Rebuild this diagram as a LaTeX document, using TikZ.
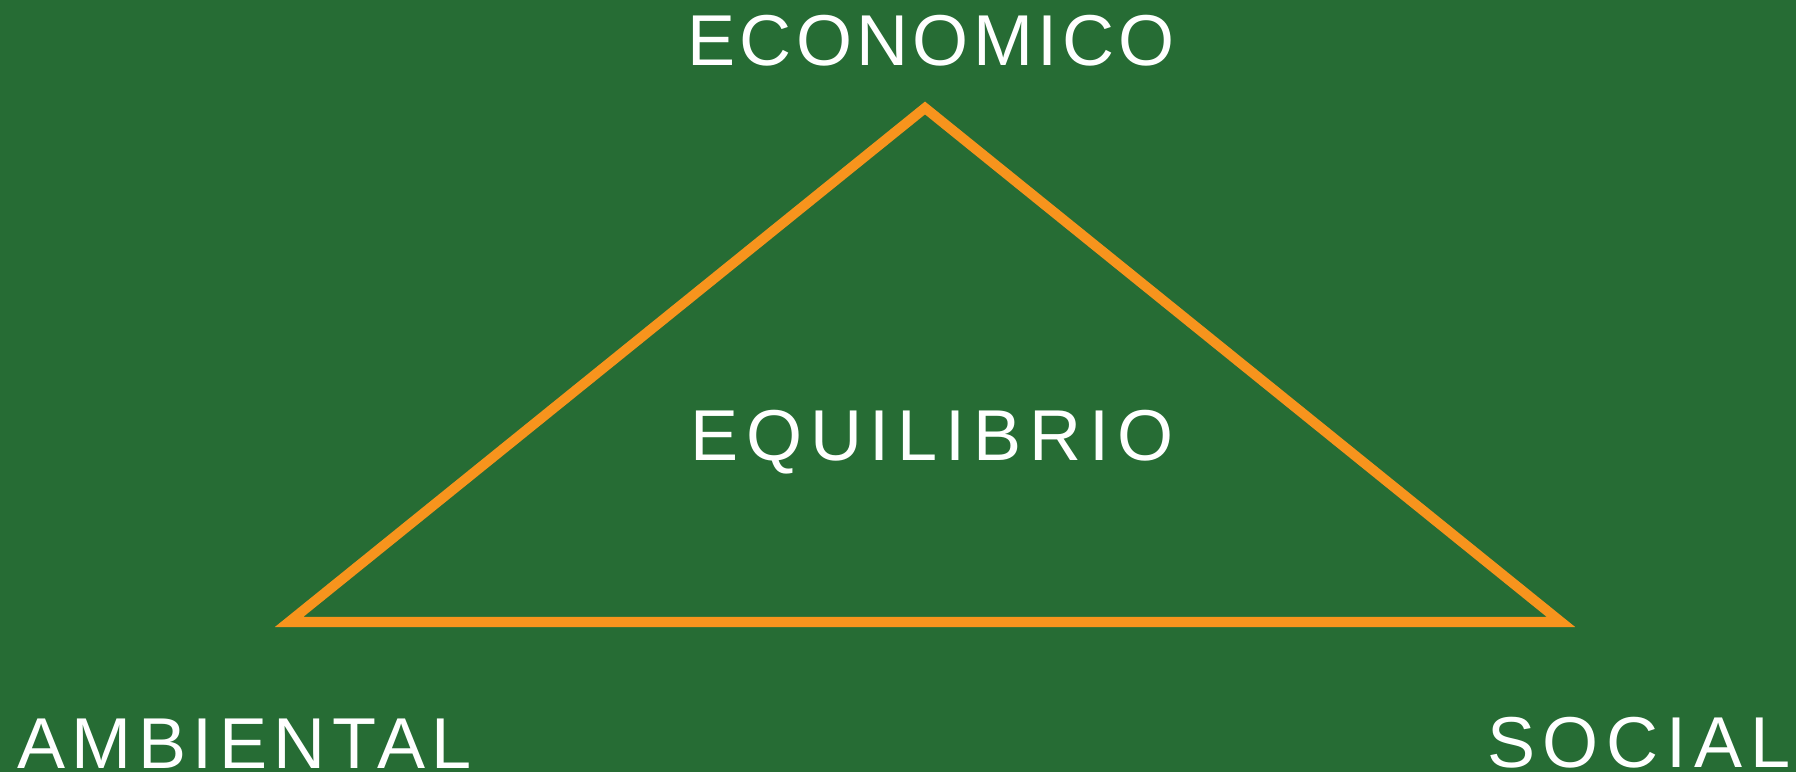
\documentclass[tikz,border=0pt]{standalone}
\usepackage{fontspec}
\setmainfont{Liberation Sans}
\usetikzlibrary{positioning}
\definecolor{sostgreen}{RGB}{38,108,52}
\definecolor{sostorange}{RGB}{247,148,29}

\begin{document}
\begin{tikzpicture}[
    line join=miter,
    edge/.style={sostorange, line width=5.7pt},
    pillar/.style={white, anchor=base, inner sep=0pt,
                   font=\fontsize{41}{49}\selectfont},
    spread/.style={font=\fontsize{41}{49}\selectfont\addfontfeature{LetterSpace=#1}},
  ]

  % ---- background -------------------------------------------
  \fill[sostgreen] (0,0) rectangle (35.92,15.44);
  \useasboundingbox (0,0) rectangle (35.92,15.44);

  % ---- triangle corners -------------------------------------
  \coordinate (top)   at (18.50,13.28);   % economico
  \coordinate (left)  at ( 5.78, 3.00);   % ambiental
  \coordinate (right) at (31.22, 3.00);   % social

  \draw[edge] (top) -- (right) -- (left) -- cycle;

  % ---- labels -----------------------------------------------
  \node[pillar, spread=6]  (eco)  at (18.62,14.13) {ECONOMICO};
  \node[pillar, spread=11] (equi) at (18.64, 6.22) {EQUILIBRIO};
  \node[pillar, spread=9]  (amb)  at ( 4.89, 0.07) {AMBIENTAL};
  \node[pillar, spread=11] (soc)  at (32.78, 0.09) {SOCIAL};

\end{tikzpicture}
\end{document}
